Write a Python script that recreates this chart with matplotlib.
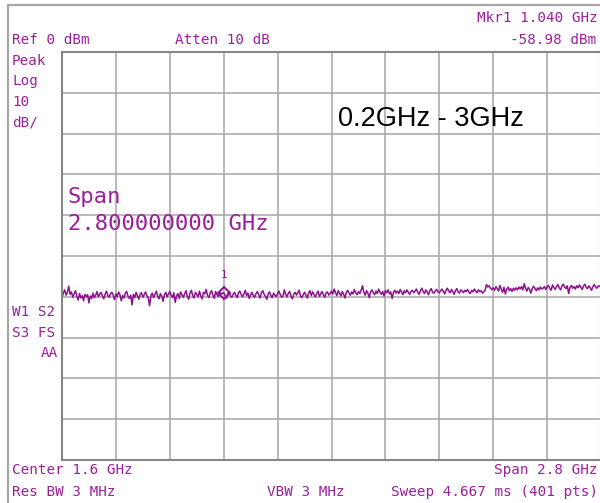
import numpy as np
import matplotlib.pyplot as plt
from matplotlib.lines import Line2D

# sweep settings
start_ghz = 0.2
stop_ghz = 3.0
ref_dbm = 0.0
db_per_div = 10
marker_ghz = 1.040
marker_dbm = -58.98

# trace, 401 points (dBm)
trace_dbm = [
    -60.2, -59.1, -58.3, -59.6, -58.9, -57.4, -59.4, -58.8, -60.1, -59.3, -58.5, -59.9, -60.8, -59.2, -60.3, -59.7, -61.0, -59.4, -60.0, -59.5,
    -61.5, -59.8, -60.4, -59.1, -60.2, -59.6, -58.7, -60.0, -59.3, -58.9, -59.8, -60.5, -59.4, -58.6, -59.7, -60.1, -59.2, -58.9, -59.6, -60.7,
    -59.3, -60.0, -58.8, -59.5, -61.0, -59.7, -60.3, -59.1, -58.7, -59.9, -60.4, -59.6, -62.0, -59.4, -60.2, -58.9, -59.8, -60.6, -59.3, -59.0,
    -60.1, -59.5, -58.8, -59.7, -60.3, -62.2, -59.6, -59.1, -60.2, -59.4, -58.6, -59.9, -60.5, -59.2, -59.8, -61.1, -59.5, -58.9, -60.0, -59.3,
    -58.7, -59.6, -60.2, -59.0, -61.4, -59.8, -59.2, -60.4, -58.8, -59.5, -60.1, -59.3, -58.5, -59.9, -60.6, -59.1, -58.4, -59.7, -60.3, -58.9,
    -59.4, -60.0, -58.6, -59.8, -60.5, -58.9, -59.3, -58.2, -59.7, -60.2, -59.0, -58.5, -59.6, -60.4, -58.7, -59.5, -59.9, -58.8, -59.4, -59.1,
    -58.98, -59.7, -60.3, -59.2, -58.7, -59.8, -60.1, -59.4, -58.9, -59.6, -60.2, -59.0, -58.6, -59.5, -60.0, -59.3, -58.4, -59.7, -59.1, -60.4,
    -59.5, -58.9, -59.8, -60.1, -59.2, -58.7, -59.6, -60.3, -59.0, -58.5, -59.4, -59.9, -60.6, -59.3, -58.8, -59.7, -60.2, -59.1, -59.6, -60.0,
    -59.2, -58.6, -59.5, -60.1, -59.8, -58.3, -59.4, -60.0, -59.1, -58.7, -59.9, -60.5, -59.3, -58.9, -59.6, -59.0, -58.4, -59.8, -60.2, -59.5,
    -58.9, -59.6, -60.3, -59.1, -58.5, -59.7, -58.8, -59.4, -60.0, -59.2, -58.6, -59.9, -59.3, -58.7, -59.5, -60.1, -59.0, -58.8, -59.6, -59.2,
    -58.6, -59.3, -58.1, -59.0, -59.7, -58.5, -59.2, -59.8, -58.7, -59.4, -60.3, -58.9, -58.4, -59.1, -59.6, -58.8, -59.3, -58.2, -59.0, -59.5,
    -58.7, -59.2, -58.4, -57.3, -58.9, -59.6, -58.5, -59.1, -60.2, -58.8, -58.3, -59.0, -59.5, -58.6, -59.2, -58.1, -58.9, -59.4, -58.7, -59.8,
    -58.5, -59.0, -58.3, -59.3, -58.8, -60.4, -58.9, -58.4, -59.1, -58.6, -59.2, -58.2, -58.8, -59.5, -58.5, -59.0, -58.3, -58.9, -59.4, -58.7,
    -58.4, -59.0, -58.6, -58.1, -58.9, -59.4, -58.5, -57.9, -58.7, -59.2, -58.3, -58.8, -59.5, -58.4, -58.0, -58.9, -59.1, -58.6, -58.2, -58.8,
    -59.0, -58.5, -58.1, -58.7, -59.3, -58.4, -57.9, -58.6, -59.0, -58.2, -58.7, -59.4, -58.5, -58.0, -58.8, -59.1, -58.3, -58.6, -59.0, -58.4,
    -58.7, -58.2, -58.9, -59.2, -58.4, -58.8, -58.1, -58.6, -59.0, -58.3, -58.7, -58.5, -59.1, -58.8, -58.4, -57.0, -57.6, -57.3, -57.9, -58.2,
    -57.8, -58.4, -57.5, -58.0, -58.6, -57.2, -58.1, -58.9, -57.7, -59.3, -58.2, -57.6, -58.5, -58.0, -58.7, -57.9, -58.4, -57.8, -58.3, -57.6,
    -58.1, -57.5, -58.3, -56.8, -57.9, -58.6, -57.7, -58.2, -59.1, -57.9, -57.4, -58.0, -58.5, -57.8, -58.3, -57.6, -58.1, -57.9, -57.5, -58.2,
    -57.6, -57.2, -57.9, -58.4, -57.1, -57.7, -58.2, -57.5, -57.0, -57.8, -58.3, -57.4, -56.9, -57.6, -58.0, -57.3, -59.2, -57.7, -57.2, -57.9,
    -57.5, -58.1, -57.3, -57.8, -57.1, -57.6, -58.2, -57.4, -56.9, -57.7, -58.0, -57.3, -57.8, -58.4, -57.5, -57.0, -57.6, -57.9, -57.3, -57.4,
    -57.8,
]

freq_ghz = np.linspace(start_ghz, stop_ghz, len(trace_dbm))

purple = '#9b1f9b'
trace_col = '#8e1290'
grid_col = '#a6a6a6'
mono = 'DejaVu Sans Mono'

fig = plt.figure(figsize=(6.0, 5.03), dpi=100)
fig.patch.set_facecolor('white')

# outer screen frame
fig.add_artist(Line2D([8 / 600, 1.0], [1 - 5 / 503, 1 - 5 / 503], color=grid_col, lw=1.6))
fig.add_artist(Line2D([8 / 600, 8 / 600], [0.0, 1 - 5 / 503], color=grid_col, lw=1.6))

ax = fig.add_axes([62 / 600, 43 / 503, 539 / 600, 408 / 503])
ax.set_xlim(start_ghz, stop_ghz)
ax.set_ylim(ref_dbm - 10 * db_per_div, ref_dbm)
ax.set_xticks(np.linspace(start_ghz, stop_ghz, 11))
ax.set_yticks(np.arange(ref_dbm - 10 * db_per_div, ref_dbm + 1, db_per_div))
ax.tick_params(length=0, labelbottom=False, labelleft=False)
ax.grid(True, color=grid_col, lw=1.1)
ax.set_axisbelow(True)
for s in ax.spines.values():
    s.set_color('#858585')
    s.set_linewidth(1.5)

ax.plot(freq_ghz, trace_dbm, color=trace_col, lw=1.1)
ax.plot([marker_ghz], [marker_dbm], marker='D', ms=6.5, mfc='none', mec=trace_col, mew=1.4)
ax.annotate('1', (marker_ghz, marker_dbm), xytext=(0, 9), textcoords='offset points',
            ha='center', va='bottom', fontsize=7.5, color=trace_col, family=mono)

# big overlay labels
ax.text(0.0111, 0.645, 'Span', transform=ax.transAxes, fontsize=15.9,
        color=purple, family=mono, va='center', ha='left')
ax.text(0.0111, 0.579, '2.800000000 GHz', transform=ax.transAxes, fontsize=15.9,
        color=purple, family=mono, va='center', ha='left')
ax.text(0.512, 0.836, '0.2GHz - 3GHz', transform=ax.transAxes, fontsize=19.5,
        color='black', family='Liberation Sans', va='center', ha='left')


def ftext(x, y, s, ha='left', size=10.3):
    fig.text(x / 600, 1 - y / 503, s, ha=ha, va='center', fontsize=size,
             color=purple, family=mono)


ftext(12, 40, 'Ref 0 dBm')
ftext(175, 40, 'Atten 10 dB')
ftext(598, 18, 'Mkr1 1.040 GHz', ha='right')
ftext(596, 40, '-58.98 dBm', ha='right')
ftext(12, 61, 'Peak')
ftext(12, 81, 'Log')
ftext(12, 102, '10')
ftext(12, 122, 'dB/')
ftext(12, 312, 'W1 S2')
ftext(12, 333, 'S3 FS')
ftext(58, 353, 'AA', ha='right')
ftext(12, 470, 'Center 1.6 GHz')
ftext(598, 470, 'Span 2.8 GHz', ha='right')
ftext(12, 492, 'Res BW 3 MHz')
ftext(267, 492, 'VBW 3 MHz')
ftext(598, 492, 'Sweep 4.667 ms (401 pts)', ha='right')

fig.savefig('out.png', dpi=100)
